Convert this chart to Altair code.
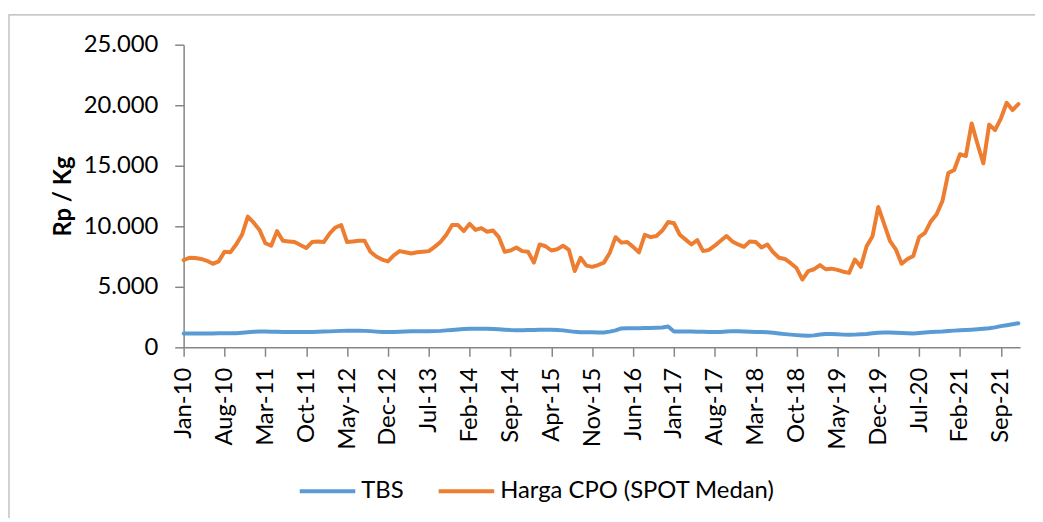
import altair as alt
import pandas as pd

tick_labels = ["Jan-10", "Aug-10", "Mar-11", "Oct-11", "May-12", "Dec-12", "Jul-13",
               "Feb-14", "Sep-14", "Apr-15", "Nov-15", "Jun-16", "Jan-17", "Aug-17",
               "Mar-18", "Oct-18", "May-19", "Dec-19", "Jul-20", "Feb-21", "Sep-21"]
tick_positions = [0, 7, 14, 21, 28, 35, 42, 49, 56, 63, 70, 77, 84, 91, 98, 105, 112,
                  119, 126, 133, 140]

cpo = [7200, 7400, 7380, 7300, 7150, 6900, 7100, 7900, 7850, 8500,
       9300, 10800, 10300, 9700, 8600, 8400, 9600, 8800, 8750, 8700,
       8450, 8200, 8700, 8750, 8700, 9400, 9900, 10100, 8700, 8750,
       8800, 8800, 7900, 7500, 7250, 7100, 7600, 7950, 7850, 7750,
       7850, 7900, 7950, 8300, 8700, 9300, 10100, 10100, 9600, 10200,
       9700, 9850, 9550, 9650, 9100, 7900, 8000, 8250, 7950, 7900,
       7000, 8500, 8350, 8000, 8100, 8400, 8050, 6300, 7400, 6750,
       6650, 6800, 7000, 7800, 9100, 8650, 8700, 8300, 7850, 9300,
       9100, 9200, 9650, 10350, 10250, 9300, 8900, 8500, 8850, 7950,
       8050, 8400, 8800, 9200, 8750, 8500, 8300, 8750, 8700, 8250,
       8500, 7850, 7400, 7300, 6950, 6550, 5600, 6300, 6450, 6800,
       6450, 6500, 6400, 6250, 6150, 7250, 6650, 8350, 9150, 11600,
       10200, 8800, 8100, 6900, 7300, 7550, 9100, 9450, 10400, 11000,
       12100, 14400, 14650, 15950, 15800, 18500, 16800, 15200, 18400, 17950,
       18900, 20200, 19600, 20100]

tbs = [1150, 1150, 1150, 1150, 1150, 1150, 1160, 1160, 1160, 1170,
       1200, 1240, 1280, 1300, 1300, 1290, 1280, 1270, 1270, 1270,
       1270, 1270, 1270, 1280, 1300, 1320, 1340, 1360, 1370, 1370,
       1370, 1360, 1340, 1300, 1270, 1260, 1270, 1290, 1310, 1330,
       1330, 1330, 1330, 1340, 1360, 1400, 1440, 1480, 1510, 1530,
       1530, 1530, 1530, 1520, 1500, 1460, 1430, 1420, 1420, 1430,
       1440, 1450, 1450, 1450, 1440, 1400, 1340, 1280, 1250, 1240,
       1240, 1230, 1230, 1300, 1400, 1560, 1580, 1580, 1580, 1590,
       1600, 1620, 1640, 1720, 1310, 1310, 1310, 1300, 1290, 1280,
       1270, 1260, 1270, 1300, 1340, 1330, 1310, 1290, 1270, 1260,
       1250, 1200, 1140, 1090, 1050, 1010, 980, 960, 990, 1060,
       1110, 1100, 1080, 1050, 1040, 1050, 1080, 1110, 1160, 1200,
       1230, 1220, 1200, 1180, 1160, 1150, 1180, 1220, 1260, 1290,
       1310, 1350, 1380, 1420, 1440, 1460, 1490, 1530, 1580, 1650,
       1750, 1830, 1910, 1990]

series_names = ["TBS", "Harga CPO (SPOT Medan)"]
series_colors = ["#5b9bd5", "#ed7d31"]

rows = []
for i, v in enumerate(tbs):
    rows.append({"m": i, "value": v, "series": series_names[0], "order": 0})
for i, v in enumerate(cpo):
    rows.append({"m": i, "value": v, "series": series_names[1], "order": 1})
df = pd.DataFrame(rows)

FONT = "Lato"
FS = 24
label_map = "{" + ",".join(f"'{p}':'{l}'" for p, l in zip(tick_positions, tick_labels)) + "}"

x_axis = alt.Axis(values=tick_positions, labelExpr=f"{label_map}[datum.value]",
                  labelAngle=-90, labelAlign="right", labelBaseline="middle",
                  labelFont=FONT, labelFontSize=FS, labelColor="#000000",
                  tickSize=9, labelPadding=11, domainColor="#868686",
                  tickColor="#868686", domainWidth=1.5, tickWidth=1.5, grid=False,
                  title=None, labelOverlap=False, labelFlush=False)
y_axis = alt.Axis(values=[0, 5000, 10000, 15000, 20000, 25000],
                  labelExpr="replace(format(datum.value, ','), ',', '.')",
                  labelFont=FONT, labelFontSize=FS, labelColor="#000000",
                  tickSize=9, labelPadding=17, domainColor="#868686",
                  tickColor="#868686", domainWidth=1.5, tickWidth=1.5, grid=False,
                  title="Rp / Kg", titleFont=FONT, titleFontSize=24,
                  titleFontWeight="bold", titleColor="#000000", titlePadding=8)

lines = alt.Chart(df).mark_line(strokeWidth=4, strokeCap="round", strokeJoin="round").encode(
    x=alt.X("m:Q", scale=alt.Scale(domain=[0, 143.3], nice=False, zero=False), axis=x_axis),
    y=alt.Y("value:Q", scale=alt.Scale(domain=[0, 25000], nice=False), axis=y_axis),
    color=alt.Color("series:N", sort=series_names,
                    scale=alt.Scale(domain=series_names, range=series_colors),
                    legend=alt.Legend(orient="none", direction="horizontal", title=None,
                                      legendX=115, legendY=420, padding=0,
                                      symbolType="stroke", symbolSize=3136,
                                      symbolStrokeWidth=4, labelFont=FONT,
                                      labelFontSize=FS, labelColor="#000000",
                                      labelOffset=4, columnPadding=27, labelLimit=400)),
    detail="series:N",
    order="order:Q",
)

border = alt.Chart(alt.Data(values=[{"a": 1}])).mark_rect(
    fill=None, stroke="#b4b4b4", strokeWidth=1.2
).encode(
    x=alt.value(-176), x2=alt.value(900), y=alt.value(-30), y2=alt.value(540)
)

chart = alt.layer(border, lines).properties(
    width=843, height=305,
    autosize=alt.AutoSizeParams(type="none"),
    padding={"left": 177, "top": 35, "right": 15, "bottom": 170},
    background="white",
).configure_view(stroke=None)

chart.save("out.html", embed_options={"renderer": "svg", "actions": False})
